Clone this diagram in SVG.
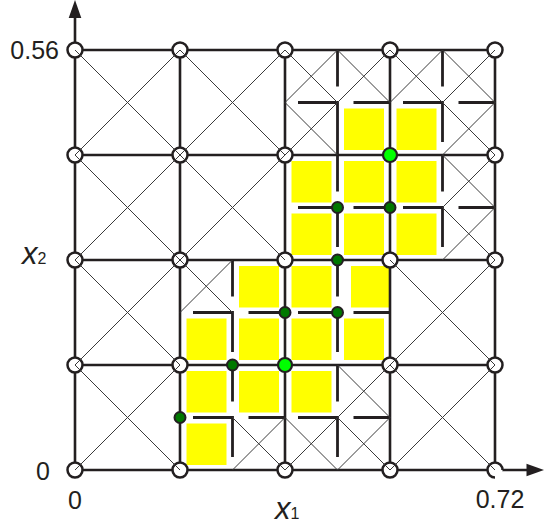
<svg xmlns="http://www.w3.org/2000/svg" width="544" height="528" viewBox="0 0 544 528">
<style>
.bg{fill:#ffffff}
.yel{fill:#ffff00}
.grid{fill:none;stroke:#231f20;stroke-width:2.6}
.seg{fill:none;stroke:#231f20;stroke-width:2.8;stroke-linejoin:miter}
.diag{fill:none;stroke:#3a3a3a;stroke-width:1}
.wn{fill:#ffffff;stroke:#231f20;stroke-width:2.5}
.lg{fill:#00ff00;stroke:#231f20;stroke-width:2.2}
.dg{fill:#007800;stroke:#231f20;stroke-width:2}
.arrow{fill:#231f20}
.lbl{font-family:"Liberation Sans",Arial,sans-serif;font-size:25px;fill:#231f20}
.var{font-family:"Liberation Sans",Arial,sans-serif;font-size:31px;font-style:italic;fill:#231f20}
.sub{font-size:16px;font-style:normal}
</style>
<rect class="bg" x="0" y="0" width="544" height="528"/>
<g id="elements">
<rect class="yel" x="344" y="108.5" width="40" height="41.5"/>
<rect class="yel" x="396.5" y="108.5" width="40" height="41.5"/>
<rect class="yel" x="291.5" y="161" width="40" height="41.5"/>
<rect class="yel" x="344" y="161" width="40" height="41.5"/>
<rect class="yel" x="396.5" y="161" width="40" height="41.5"/>
<rect class="yel" x="291.5" y="213.5" width="40" height="41.5"/>
<rect class="yel" x="344" y="213.5" width="40" height="41.5"/>
<rect class="yel" x="396.5" y="213.5" width="40" height="41.5"/>
<rect class="yel" x="239" y="266" width="40" height="41.5"/>
<rect class="yel" x="291.5" y="266" width="40" height="41.5"/>
<rect class="yel" x="351" y="266" width="40" height="41.5"/>
<rect class="yel" x="186.5" y="318.5" width="40" height="41.5"/>
<rect class="yel" x="239" y="318.5" width="40" height="41.5"/>
<rect class="yel" x="291.5" y="318.5" width="40" height="41.5"/>
<rect class="yel" x="344" y="318.5" width="40" height="41.5"/>
<rect class="yel" x="186.5" y="371" width="40" height="41.5"/>
<rect class="yel" x="239" y="371" width="40" height="41.5"/>
<rect class="yel" x="291.5" y="371" width="40" height="41.5"/>
<rect class="yel" x="186.5" y="423.5" width="40" height="41.5"/>
</g>
<g id="connectors">
<path class="grid" d="M75 50V470M180 50V470M285 50V470M390 50V470M495 50V470M75 50H495M75 155H495M75 260H495M75 365H495M75 470H495M75 50V16M495 470H528"/>
<path class="seg" d="M337.5 50V86.5M298 102.5H337.5V155M353.5 102.5H390
M442.5 50V86.5M403 102.5H442.5V142M458.5 102.5H495
M337.5 155V191.5M298 207.5H337.5V247M353.5 207.5H390
M442.5 155V191.5M403 207.5H442.5V247M458.5 207.5H495
M232.5 260V296.5M193 312.5H232.5V352M248.5 312.5H285
M337.5 260V296.5M298 312.5H337.5V352M353.5 312.5H390
M232.5 365V401.5M193 417.5H232.5V457M248.5 417.5H285
M337.5 365V401.5M298 417.5H337.5V457M353.5 417.5H390"/>
<polygon class="arrow" points="75,0 68.7,18 81.3,18"/>
<polygon class="arrow" points="544,470 526.5,463.7 526.5,476.3"/>
</g>
<g id="nodes-open">
<g id="n00"><circle class="wn" cx="75" cy="470" r="7.5"/></g>
<g id="n10"><circle class="wn" cx="180" cy="470" r="7.5"/></g>
<g id="n20"><circle class="wn" cx="285" cy="470" r="7.5"/></g>
<g id="n30"><circle class="wn" cx="390" cy="470" r="7.5"/></g>
<g id="n40"><circle cx="495" cy="470" r="7.5" fill="#ffffff"/><path class="wn" fill="none" d="M502.5 470A7.5 7.5 0 1 0 495 477.5"/></g>
<g id="n01"><circle class="wn" cx="75" cy="365" r="7.5"/></g>
<g id="n11"><circle class="wn" cx="180" cy="365" r="7.5"/></g>
<g id="n31"><circle class="wn" cx="390" cy="365" r="7.5"/></g>
<g id="n41"><circle class="wn" cx="495" cy="365" r="7.5"/></g>
<g id="n02"><circle class="wn" cx="75" cy="260" r="7.5"/></g>
<g id="n12"><circle class="wn" cx="180" cy="260" r="7.5"/></g>
<g id="n22"><circle class="wn" cx="285" cy="260" r="7.5"/></g>
<g id="n32"><circle class="wn" cx="390" cy="260" r="7.5"/></g>
<g id="n42"><circle class="wn" cx="495" cy="260" r="7.5"/></g>
<g id="n03"><circle class="wn" cx="75" cy="155" r="7.5"/></g>
<g id="n13"><circle class="wn" cx="180" cy="155" r="7.5"/></g>
<g id="n23"><circle class="wn" cx="285" cy="155" r="7.5"/></g>
<g id="n43"><circle class="wn" cx="495" cy="155" r="7.5"/></g>
<g id="n04"><circle class="wn" cx="75" cy="50" r="7.5"/></g>
<g id="n14"><circle class="wn" cx="180" cy="50" r="7.5"/></g>
<g id="n24"><circle class="wn" cx="285" cy="50" r="7.5"/></g>
<g id="n34"><circle class="wn" cx="390" cy="50" r="7.5"/></g>
<g id="n44"><circle class="wn" cx="495" cy="50" r="7.5"/></g>
</g>
<g id="diagonals">
<path class="diag" d="M75 50L180 155M180 50L75 155
M180 50L285 155M285 50L180 155
M75 155L180 260M180 155L75 260
M180 155L285 260M285 155L180 260
M75 260L180 365M180 260L75 365
M75 365L180 470M180 365L75 470
M390 260L495 365M495 260L390 365
M390 365L495 470M495 365L390 470
M285 50L337.5 102.5M337.5 50L285 102.5
M337.5 50L390 102.5M390 50L337.5 102.5
M285 102.5L337.5 155M337.5 102.5L285 155
M390 50L442.5 102.5M442.5 50L390 102.5
M442.5 50L495 102.5M495 50L442.5 102.5
M442.5 102.5L495 155M495 102.5L442.5 155
M442.5 155L495 207.5M495 155L442.5 207.5
M442.5 207.5L495 260M495 207.5L442.5 260
M180 260L232.5 312.5M232.5 260L180 312.5
M232.5 417.5L285 470M285 417.5L232.5 470
M337.5 365L390 417.5M390 365L337.5 417.5
M285 417.5L337.5 470M337.5 417.5L285 470
M337.5 417.5L390 470M390 417.5L337.5 470"/>
</g>
<g id="nodes-green">
<g id="g1"><circle class="lg" cx="390" cy="155" r="7"/></g>
<g id="g2"><circle class="lg" cx="285" cy="365" r="7"/></g>
<g id="d1"><circle class="dg" cx="337.5" cy="207.5" r="5.5"/></g>
<g id="d2"><circle class="dg" cx="390" cy="207.5" r="5.5"/></g>
<g id="d3"><circle class="dg" cx="337.5" cy="260" r="5.5"/></g>
<g id="d4"><circle class="dg" cx="285" cy="312.5" r="5.5"/></g>
<g id="d5"><circle class="dg" cx="337.5" cy="312.5" r="5.5"/></g>
<g id="d6"><circle class="dg" cx="232.5" cy="365" r="5.5"/></g>
<g id="d7"><circle class="dg" cx="180" cy="417.5" r="5.5"/></g>
</g>
<g id="labels">
<text class="lbl" x="59" y="58.5" text-anchor="end">0.56</text>
<text class="lbl" x="36" y="479.5">0</text>
<text class="lbl" x="75" y="508.5" text-anchor="middle">0</text>
<text class="lbl" x="500" y="507.5" text-anchor="middle">0.72</text>
<text class="var" x="275" y="518.5">x<tspan class="sub">1</tspan></text>
<text class="var" x="22" y="263.5">x<tspan class="sub">2</tspan></text>
</g>
</svg>
